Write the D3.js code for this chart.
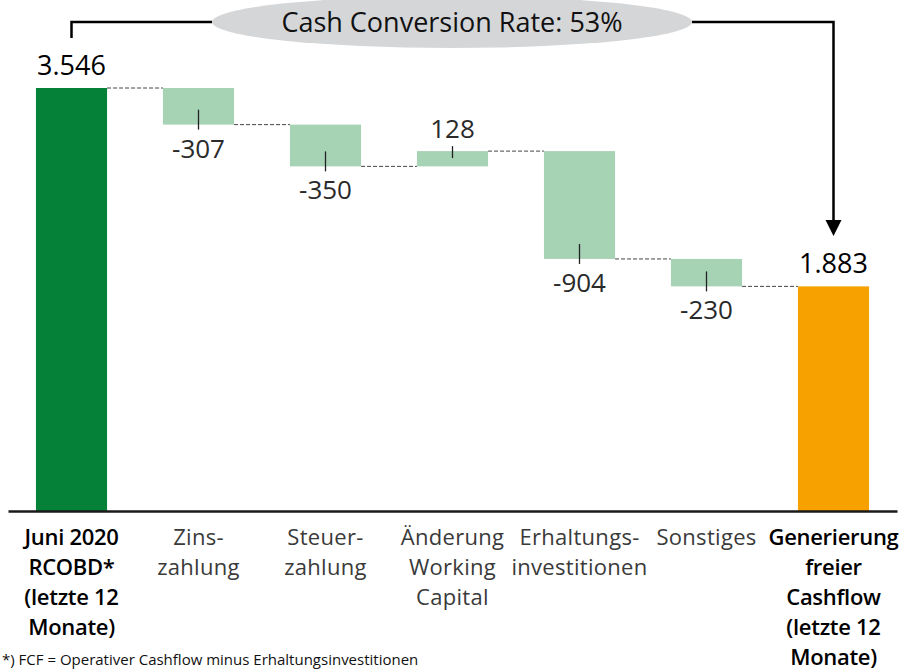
<!DOCTYPE html>
<html>
<head>
<meta charset="utf-8">
<script src="https://cdn.jsdelivr.net/npm/d3@7"></script>
<style>
  html, body { margin: 0; padding: 0; background: #fff; overflow: hidden; }
  svg { display: block; font-family: "Open Sans", "Noto Sans", sans-serif; }
</style>
</head>
<body>
<div id="chart"></div>
<script>
// chart data
var categories = [
  ["Juni 2020", "RCOBD*", "(letzte 12", "Monate)"],
  ["Zins-", "zahlung"],
  ["Steuer-", "zahlung"],
  ["Änderung", "Working", "Capital"],
  ["Erhaltungs-", "investitionen"],
  ["Sonstiges"],
  ["Generierung", "freier", "Cashflow", "(letzte 12", "Monate)"]
];
var values = [3546, -307, -350, 128, -904, -230, 1883];
var kinds = ["start", "delta", "delta", "delta", "delta", "delta", "end"];
var valueLabels = ["3.546", "-307", "-350", "128", "-904", "-230", "1.883"];
var calloutText = "Cash Conversion Rate: 53%";
var footnote = "*) FCF = Operativer Cashflow minus Erhaltungsinvestitionen";

var width = 905, height = 670;
var colors = {start: "#058237", delta: "#a7d3b5", end: "#f6a100"};

var svg = d3.select("#chart").append("svg")
  .attr("width", width)
  .attr("height", height);

var x = d3.scaleBand()
  .domain(d3.range(categories.length))
  .range([8, 897])
  .paddingInner(0.44)
  .paddingOuter(0.22);

var y = d3.scaleLinear()
  .domain([0, 3546])
  .range([511, 88]);

// running totals for the waterfall
var running = 0;
var bars = values.map(function(v, i) {
  var b;
  if (kinds[i] === "delta") {
    b = {i: i, v: v, from: running, to: running + v, kind: kinds[i]};
    running += v;
  } else {
    b = {i: i, v: v, from: 0, to: v, kind: kinds[i]};
    running = v;
  }
  return b;
});

// dashed connectors
var conn = svg.append("g");
bars.slice(0, -1).forEach(function(b) {
  conn.append("line")
    .attr("x1", x(b.i) + x.bandwidth())
    .attr("x2", x(b.i + 1))
    .attr("y1", y(b.to))
    .attr("y2", y(b.to))
    .attr("stroke", "#444")
    .attr("stroke-width", 1)
    .attr("stroke-dasharray", "4,2");
});

// bars
svg.append("g").selectAll("rect")
  .data(bars)
  .enter().append("rect")
  .attr("x", function(d) { return x(d.i); })
  .attr("width", x.bandwidth())
  .attr("y", function(d) { return y(Math.max(d.from, d.to)); })
  .attr("height", function(d) { return Math.abs(y(d.from) - y(d.to)); })
  .attr("fill", function(d) { return colors[d.kind]; });

// little leader ticks on the delta bars
var deltas = bars.filter(function(d) { return d.kind === "delta"; });
svg.append("g").selectAll("line")
  .data(deltas)
  .enter().append("line")
  .attr("x1", function(d) { return x(d.i) + x.bandwidth() / 2; })
  .attr("x2", function(d) { return x(d.i) + x.bandwidth() / 2; })
  .attr("y1", function(d) { return d.v < 0 ? y(d.to) - 15 : y(d.to) - 5; })
  .attr("y2", function(d) { return d.v < 0 ? y(d.to) + 5 : y(d.to) + 7; })
  .attr("stroke", "#222")
  .attr("stroke-width", 1.3);

// value labels
svg.append("g").selectAll("text")
  .data(bars)
  .enter().append("text")
  .attr("x", function(d) { return x(d.i) + x.bandwidth() / 2; })
  .attr("y", function(d) {
    if (d.kind !== "delta" || d.v > 0) return y(Math.max(d.from, d.to)) - 13;
    return y(d.to) + 33;
  })
  .attr("text-anchor", "middle")
  .attr("font-size", function(d) { return d.kind === "delta" ? "26px" : "27px"; })
  .attr("fill", function(d) { return d.kind === "delta" ? "#2a2a2a" : "#000"; })
  .text(function(d) { return valueLabels[d.i]; });

// x axis line
var axis = svg.append("g")
  .attr("transform", "translate(0," + y(0) + ")")
  .call(d3.axisBottom(x).tickSize(0).tickSizeOuter(0).tickFormat(""));
axis.select(".domain").attr("stroke", "#1a1a1a").attr("stroke-width", 2.5);

// category labels
var cat = svg.append("g").selectAll("text")
  .data(categories)
  .enter().append("text")
  .attr("text-anchor", "middle")
  .attr("font-size", "22px")
  .attr("font-weight", function(d, i) { return kinds[i] === "delta" ? "normal" : "600"; })
  .attr("fill", function(d, i) { return kinds[i] === "delta" ? "#3a3a3a" : "#000"; })
  .attr("letter-spacing", function(d, i) { return kinds[i] === "delta" ? "0.3px" : "-0.3px"; });
cat.each(function(lines, i) {
  var t = d3.select(this);
  lines.forEach(function(line, j) {
    t.append("tspan")
      .attr("x", x(i) + x.bandwidth() / 2)
      .attr("y", 545 + j * 30)
      .text(line);
  });
});

// callout: ellipse with bracket and arrow
var cx = 452, cy = 22;
svg.append("ellipse")
  .attr("cx", cx).attr("cy", cy)
  .attr("rx", 240).attr("ry", 26)
  .attr("fill", "#d5d6d8");
svg.append("text")
  .attr("x", cx).attr("y", 32)
  .attr("text-anchor", "middle")
  .attr("font-size", "27px")
  .attr("fill", "#111")
  .text(calloutText);

var xs = x(0) + x.bandwidth() / 2;
var xe = x(categories.length - 1) + x.bandwidth() / 2;
svg.append("path")
  .attr("d", "M" + xs + ",38 V" + cy + " H" + (cx - 240))
  .attr("fill", "none").attr("stroke", "#000").attr("stroke-width", 2.5);
svg.append("path")
  .attr("d", "M" + (cx + 240) + "," + cy + " H" + xe + " V222")
  .attr("fill", "none").attr("stroke", "#000").attr("stroke-width", 2.5);
svg.append("path")
  .attr("d", "M" + (xe - 8) + ",220 L" + (xe + 8) + ",220 L" + xe + ",236 Z")
  .attr("fill", "#000");

// footnote along the bottom edge
svg.append("text")
  .attr("x", 2).attr("y", 665)
  .attr("font-size", "15px")
  .attr("fill", "#111")
  .text(footnote);
</script>
</body>
</html>
